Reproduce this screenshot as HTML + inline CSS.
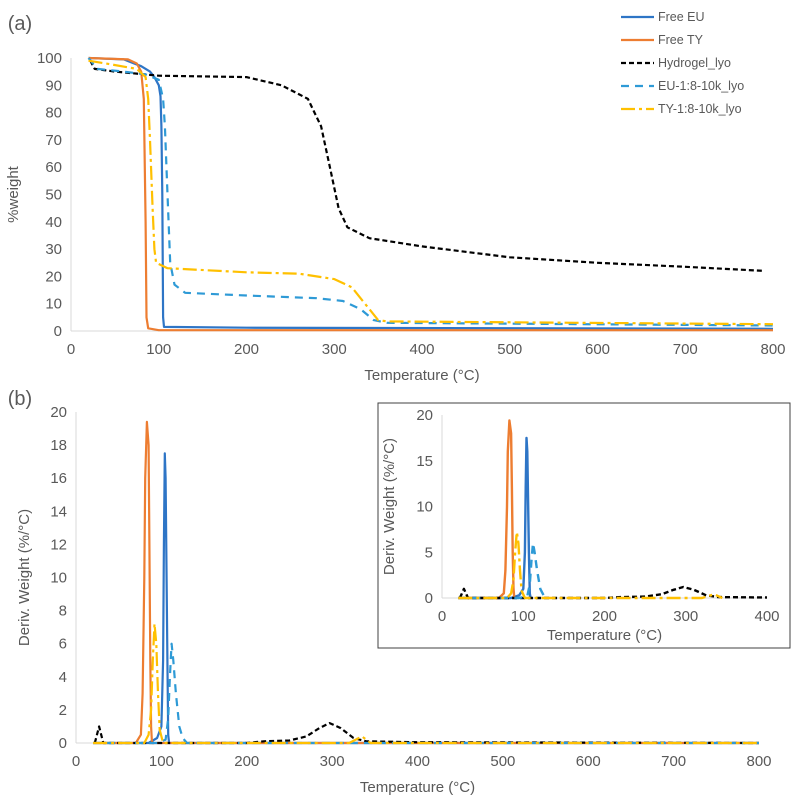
<!DOCTYPE html>
<html><head><meta charset="utf-8"><style>
body{margin:0;background:#fff;}
svg{display:block;font-family:"Liberation Sans",sans-serif;}
</style></head><body>
<svg id="c" width="796" height="799"></svg>
<script>
// ---- data ----
const seriesNames=["Free EU","Free TY","Hydrogel_lyo","EU-1:8-10k_lyo","TY-1:8-10k_lyo"];
const euT=[20,60,80,90,95,100,102,103,104,105,106,200,800];
const euW=[100,99.5,97,95,93,90,86,75,50,5,1.5,1.2,0.8];
const tyT=[20,65,75,80,83,85,86,88,100,800];
const tyW=[100,99.5,98,95,85,40,5,1,0.3,0.3];
const hyT=[22,27,50,100,200,240,270,285,295,305,315,340,400,500,600,700,790];
const hyW=[99,96,95,93.5,93,90,85,75,60,45,38,34,31,27,25,23.5,22];
const eulT=[20,30,60,85,100,105,107,110,113,118,130,200,280,310,330,345,360,800];
const eulW=[100,96,95,94,92,85,75,50,25,17,14,13,12,11,8,4,3,2];
const tylT=[20,40,75,85,88,90,93,95,97,110,200,260,300,320,340,350,360,800];
const tylW=[99,98,96,93,85,70,45,30,25,23,21.5,21,19,16,8,4,3.5,2.5];
// derivative
const dEuT=[20,85,95,100,102,103,104,105,107,108,109,800];
const dEuV=[0,0,0.3,1,5,12,17.5,16,5,0.5,0,0];
const dTyT=[20,70,76,78,80,81,83,85,86,87,88,89,800];
const dTyV=[0,0,0.5,3,10,16,19.4,18,12,5,1,0,0];
const dHyT=[22,27,32,60,200,220,250,270,285,297,310,325,340,400,800];
const dHyV=[0,1,0,0,0,0.1,0.15,0.4,0.9,1.2,0.9,0.3,0.1,0.05,0];
const dEulT=[20,95,105,108,110,112,114,117,121,125,130,800];
const dEulV=[0,0,0.2,1.5,4,6,5,3,1,0.3,0,0];
const dTylT=[20,80,85,88,90,92,94,96,98,102,320,335,345,800];
const dTylV=[0,0,0.5,2,5,7.2,6,3,0.8,0,0,0.4,0,0];
const xTicksA=[0,100,200,300,400,500,600,700,800];
const yTicksA=[0,10,20,30,40,50,60,70,80,90,100];
const yTicksB=[0,2,4,6,8,10,12,14,16,18,20];
const xTicksI=[0,100,200,300,400];
const yTicksI=[0,5,10,15,20];

const NS="http://www.w3.org/2000/svg";
const svg=document.getElementById('c');
function el(tag,attrs,parent){const e=document.createElementNS(NS,tag);for(const k in attrs)e.setAttribute(k,attrs[k]);(parent||svg).appendChild(e);return e;}
function txt(x,y,s,size,anchor,parent,rot){const t=el('text',{x:x,y:y,'font-size':size,fill:'#595959','text-anchor':anchor||'middle'},parent);if(rot)t.setAttribute('transform','rotate(-90 '+x+' '+y+')');t.textContent=s;return t;}
const colors=["#2e75c6","#ed7d31","#000000","#2e9ad6","#ffc000"];
const dashes=["","","5,3","8,6","14,4,3,4"];

function axes(px0,px1,py0,py1,xmax,ymax){
  return {sx:v=>px0+(px1-px0)*v/xmax, sy:v=>py0-(py0-py1)*v/ymax};
}
function drawPanel(name,px0,px1,py0,py1,xmax,ymax,xt,yt,fs,sets,ytitle,xtitleY,ytitleX,width){
  const g=el('g',{});
  
  
  const a=axes(px0,px1,py0,py1,xmax,ymax);
  el('line',{x1:px0,y1:py0,x2:px1,y2:py0,stroke:'#d9d9d9'},g);
  el('line',{x1:px0,y1:py0,x2:px0,y2:py1,stroke:'#d9d9d9'},g);
  xt.forEach(v=>{const t=txt(a.sx(v),py0+23,String(v),fs,'middle',g);});
  yt.forEach(v=>{const t=txt(px0-9,a.sy(v)+5,String(v),fs,'end',g);});
  const xtitle=txt((px0+px1)/2,xtitleY,'Temperature (°C)',fs,'middle',g);
  
  
  const ytl=txt(ytitleX,(py0+py1)/2,ytitle,fs,'middle',g,true);
  
  
  sets.forEach((s,i)=>{
    const [T,V]=s; let d='';
    T.forEach((t,j)=>{if(t>xmax)return; d+=(j?'L':'M')+a.sx(t).toFixed(1)+','+a.sy(V[j]).toFixed(1);});
    const p=el('path',{d:d,fill:'none',stroke:colors[i],'stroke-width':width,'stroke-dasharray':dashes[i],'stroke-linejoin':'round'},g);
    
    
  });
}
txt(20,30,'(a)',20,'middle');
txt(20,405,'(b)',20,'middle');
drawPanel('weight-chart',71,773,331,58,800,100,xTicksA,yTicksA,15,
 [[euT,euW],[tyT,tyW],[hyT,hyW],[eulT,eulW],[tylT,tylW]],'%weight',380,18,2.2);
drawPanel('derivative-chart',76,759,743,412,800,20,xTicksA,yTicksB,15,
 [[dEuT,dEuV],[dTyT,dTyV],[dHyT,dHyV],[dEulT,dEulV],[dTylT,dTylV]],'Deriv. Weight (%/°C)',792,29,2.2);
const box=el('rect',{x:378,y:403,width:412,height:245,fill:'#fff',stroke:'#404040','stroke-width':1});


drawPanel('inset-chart',442,767,598,415,400,20,xTicksI,yTicksI,15,
 [[dEuT,dEuV],[dTyT,dTyV],[dHyT,dHyV],[dEulT,dEulV],[dTylT,dTylV]],'Deriv. Weight (%/°C)',640,394,2.4);
// legend
seriesNames.forEach((n,i)=>{
  const y=17+i*23;
  const g=el('g',{});
  
  
  el('line',{x1:621,y1:y,x2:654,y2:y,stroke:colors[i],'stroke-width':2.2,'stroke-dasharray':dashes[i]},g);
  txt(658,y+4,n,12.5,'start',g);
});
</script>
</body></html>
